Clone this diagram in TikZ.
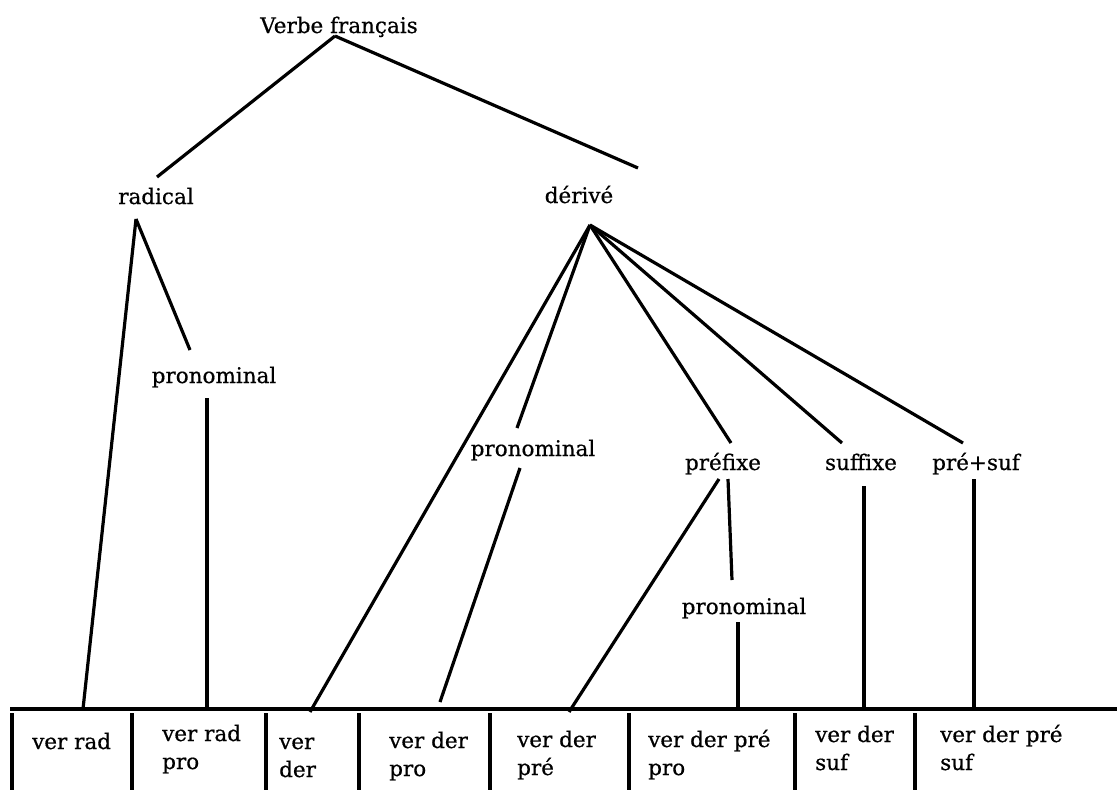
\documentclass[tikz,border=0pt]{standalone}
\usepackage{fontspec}
\setmainfont{DejaVu Serif}[FakeBold=0.6]
\begin{document}
\begin{tikzpicture}[x=1pt,y=-1pt,
  lbl/.style={inner sep=0pt, anchor=base, font=\fontsize{21.5}{28}\selectfont},
  cell/.style={inner sep=0pt, anchor=base west, align=left, font=\fontsize{21.5}{28}\selectfont},
  edge/.style={line width=3.2pt},
  rule/.style={line width=3.4pt}]
\useasboundingbox (0,0) rectangle (1117,790);
% labels
\node[lbl] (root) at (339,33) {Verbe français};
\node[lbl] (rad) at (156,204) {radical};
\node[lbl] (der) at (579,203) {dérivé};
\node[lbl] (pro1) at (214,383) {pronominal};
\node[lbl] (pro2) at (533,456) {pronominal};
\node[lbl] (pre) at (723,470) {préfixe};
\node[lbl] (suf) at (861,470) {suffixe};
\node[lbl] (ps) at (976,470) {pré+suf};
\node[lbl] (pro3) at (744,614) {pronominal};
% cells (base = baseline of last line)
\node[cell] (c1) at (32,749) {ver rad};
\node[cell] (c2) at (162,769) {ver rad\\pro};
\node[cell] (c3) at (279,777) {ver\\der};
\node[cell] (c4) at (389,776) {ver der\\pro};
\node[cell] (c5) at (517,775) {ver der\\pré};
\node[cell] (c6) at (648,775) {ver der pré\\pro};
\node[cell] (c7) at (815,770) {ver der\\suf};
\node[cell] (c8) at (940,770) {ver der pré\\suf};
% connector points
\coordinate (root-dn) at (335,36);
\coordinate (rad-up) at (157,177);
\coordinate (der-up) at (638,168);
\coordinate (rad-dn) at (136,219);
\coordinate (pro1-up) at (190,350);
\coordinate (pro1-dn) at (207,398);
\coordinate (der-dn) at (590,225);
\coordinate (pro2-up) at (517,428);
\coordinate (pro2-dn) at (520,468);
\coordinate (pre-up) at (731,443);
\coordinate (pre-dnl) at (719,479);
\coordinate (pre-dnr) at (728,479);
\coordinate (pro3-up) at (732,580);
\coordinate (pro3-dn) at (738,622);
\coordinate (suf-up) at (842,443);
\coordinate (suf-dn) at (864,486);
\coordinate (ps-up) at (963,443);
\coordinate (ps-dn) at (974,479);
\coordinate (c1-up) at (83,709);
\coordinate (c2-up) at (207,709);
\coordinate (c3-up) at (310,712);
\coordinate (c4-up) at (440,702);
\coordinate (c5-up) at (569,712);
\coordinate (c6-up) at (738,709);
\coordinate (c7-up) at (864,710);
\coordinate (c8-up) at (974,710);
% tree connectors
\draw[edge] (root-dn) -- (rad-up);
\draw[edge] (root-dn) -- (der-up);
\draw[edge] (rad-dn) -- (c1-up);
\draw[edge] (rad-dn) -- (pro1-up);
\draw[edge] (pro1-dn) -- (c2-up);
\draw[edge] (der-dn) -- (c3-up);
\draw[edge] (der-dn) -- (pro2-up);
\draw[edge] (der-dn) -- (pre-up);
\draw[edge] (der-dn) -- (suf-up);
\draw[edge] (der-dn) -- (ps-up);
\draw[edge] (pro2-dn) -- (c4-up);
\draw[edge] (pre-dnl) -- (c5-up);
\draw[edge] (pre-dnr) -- (pro3-up);
\draw[edge] (pro3-dn) -- (c6-up);
\draw[edge] (suf-dn) -- (c7-up);
\draw[edge] (ps-dn) -- (c8-up);
% table
\coordinate (tab-l) at (10,709);
\coordinate (tab-r) at (1117,709);
\draw[rule] (tab-l) -- (tab-r);
\foreach \x in {12,132,266,359,490,629,795,915}
  \draw[rule] (\x,713) -- (\x,790);
\end{tikzpicture}
\end{document}
